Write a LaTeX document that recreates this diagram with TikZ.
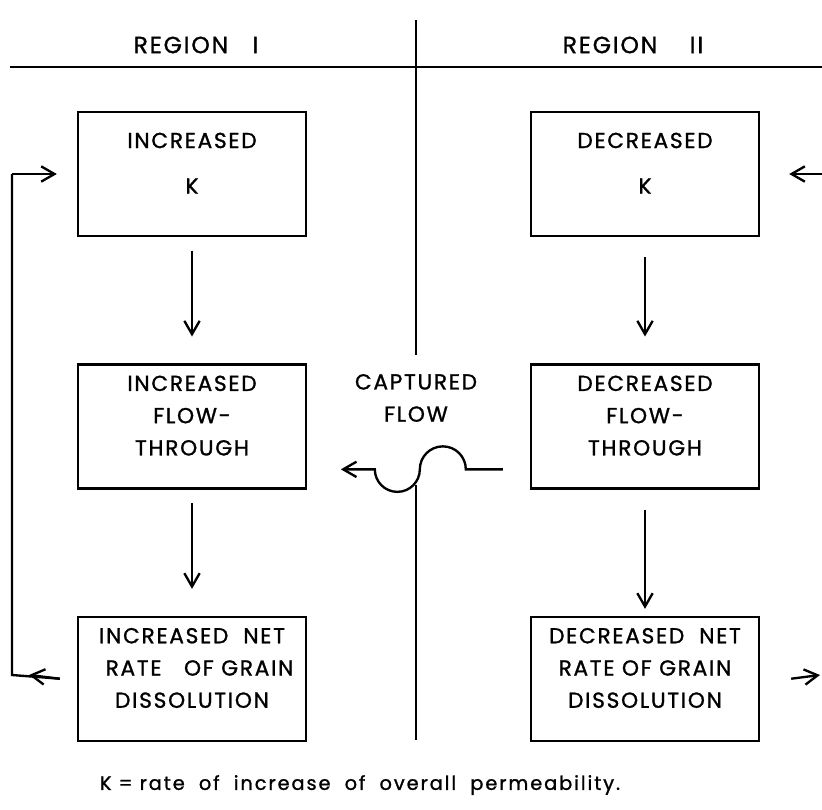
\documentclass[tikz,border=0pt]{standalone}
\usepackage{fontspec}
\setmainfont{Poppins}[LetterSpace=8, FakeBold=1.2]
\usetikzlibrary{positioning,calc,arrows.meta}

\tikzset{
  line/.style={line width=2pt},
  arr/.style={line, -{Straight Barb[length=4mm,width=4.6mm,line width=2pt]}},
  box/.style={line, draw, minimum width=6.84cm, minimum height=3.72cm,
    text depth=0.65cm, align=center, font=\fontsize{18.5}{27.5}\selectfont},
  txt/.style={font=\fontsize{18.5}{27.5}\selectfont, align=center}
}

\begin{document}
\begin{tikzpicture}[x=0.03cm, y=-0.03cm]

    \useasboundingbox (0,0) rectangle (822,809);

    % HEADINGS
    \node[txt, font=\fontsize{20}{24}\selectfont] (regI) at (196,45) {REGION\ \ \ I};
    \node[txt, font=\fontsize{20}{24}\selectfont] (regII) at (633,45) {REGION\ \ \ \ II};

    % DIVIDERS
    \draw[line] (10,67) -- (822,67);
    \draw[line] (416,20) -- (416,355);
    \draw[line] (416,485) -- (416,740);

    % REGION I
    \node[box] (lk) at (192,174) {INCREASED\\[0.4cm] K};
    \node[box, below=3.78cm of lk] (lflow) {INCREASED\\FLOW-\\THROUGH};
    \node[box, below=3.78cm of lflow] (lnet) {INCREASED\ \ NET\\\ \ RATE\ \ \ OF GRAIN\\DISSOLUTION};

    % REGION II
    \node[box] (rk) at (645,174) {DECREASED\\[0.4cm] K};
    \node[box, below=3.78cm of rk] (rflow) {DECREASED\\FLOW-\\THROUGH};
    \node[box, below=3.78cm of rflow] (rnet) {DECREASED\ \ NET\\RATE\ OF\ GRAIN\\DISSOLUTION};

    % DOWN ARROWS
    \draw[arr, shorten <=0.4cm, shorten >=0.8cm] (lk) -- (lflow);
    \draw[arr, shorten <=0.4cm, shorten >=0.8cm] (lflow) -- (lnet);
    \draw[arr, shorten <=0.6cm, shorten >=0.8cm] (rk) -- (rflow);
    \draw[arr, shorten <=0.6cm, shorten >=0.2cm] (rflow) -- (rnet);

    % FEEDBACK LOOP, REGION I
    \coordinate (lbot) at (12,675);
    \coordinate (ltop) at (12,174);
    \draw[line] ($(lnet.west)+(-17,0)$) -- (lbot) -- (ltop);
    \draw[arr] ($(lnet.west)+(-17,0)$) -- ($(lbot)+(17,0)$);
    \draw[arr] (ltop) -- ($(lk.west)+(-20,0)$);

    % LINKS OUT OF REGION II
    \coordinate (rin) at (822,174);
    \coordinate (rout) at (820,675);
    \draw[arr] (rin) -- ($(rk.east)+(29,0)$);
    \draw[arr] ($(rnet.east)+(31,0)$) -- (rout);

    % CAPTURED FLOW
    \node[txt] (capt) at (416,398) {CAPTURED\\FLOW};
    \draw[arr] ($(rflow.west)+(-27,43)$) -- ++(-37,0) arc (0:-180:23) arc (0:180:22.5) -- ++(-34,0);

    % KEY
    \node[font=\fontsize{16.5}{20}\selectfont\addfontfeatures{LetterSpace=10}] (key) at (360,785)
      {K = rate\ \ of\ \ increase\ \ of\ \ overall\ \ permeability.};

\end{tikzpicture}
\end{document}
